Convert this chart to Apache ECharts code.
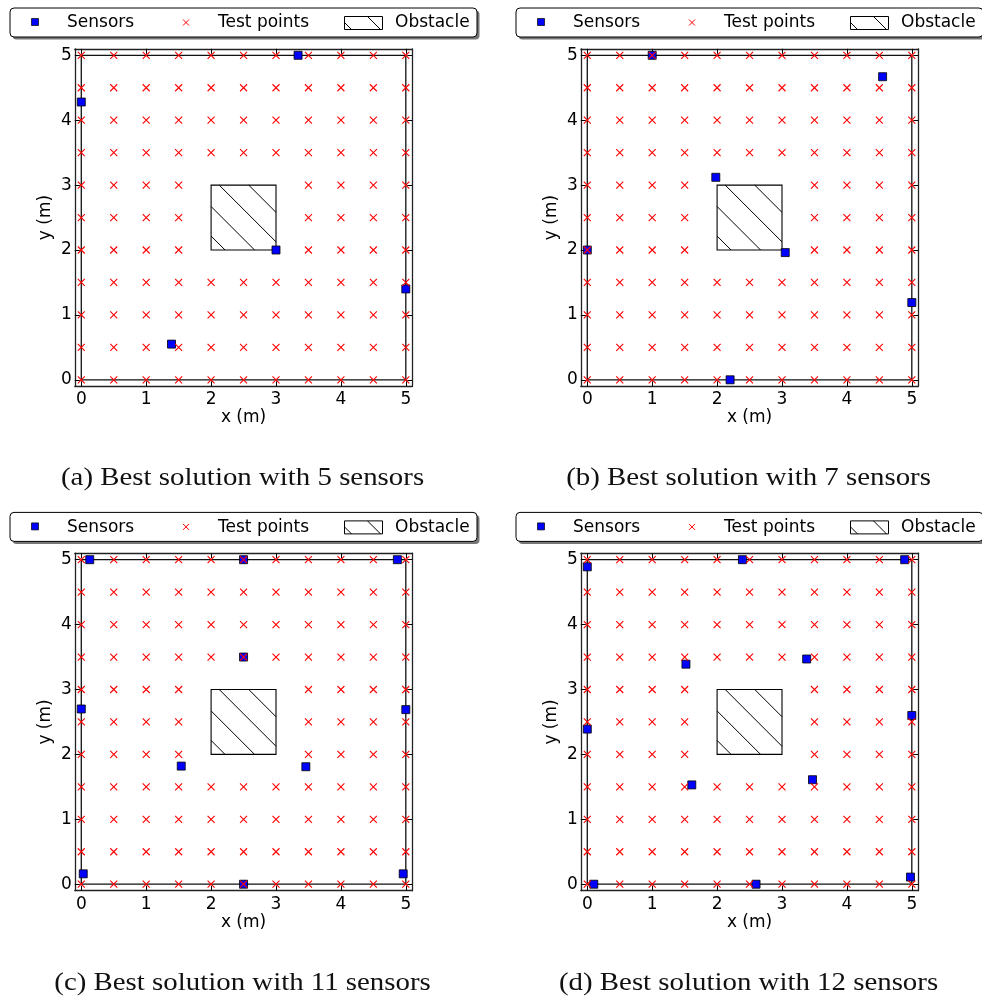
<!DOCTYPE html>
<html>
<head>
<meta charset="utf-8">
<script src="https://cdn.jsdelivr.net/npm/echarts@6/dist/echarts.min.js"></script>
<style>
  html, body { margin: 0; padding: 0; background: #fff; }
  #chart { width: 982px; height: 998px; }
</style>
</head>
<body>
<div id="chart"></div>
<script>
// Sensor placements (x, y in metres) for each optimisation run
const sensorsA = [[3.34, 5.0], [0.0, 4.28], [3.0, 2.0], [5.0, 1.4], [1.39, 0.55]];
const sensorsB = [[1.0, 5.0], [4.55, 4.67], [1.98, 3.12], [0.0, 2.0], [3.05, 1.96], [5.0, 1.19], [2.2, 0.0]];
const sensorsC = [[0.13, 5.0], [2.5, 5.0], [4.87, 5.0], [2.5, 3.5], [0.0, 2.7], [5.0, 2.69],
                  [1.54, 1.82], [3.46, 1.81], [0.03, 0.16], [4.96, 0.16], [2.5, 0.0]];
const sensorsD = [[0.0, 4.89], [2.39, 5.0], [4.89, 5.0], [1.52, 3.39], [3.38, 3.47], [0.0, 2.39],
                  [5.0, 2.6], [1.61, 1.53], [3.47, 1.61], [0.1, 0.0], [2.6, 0.0], [4.98, 0.11]];
const sensorSets = [sensorsA, sensorsB, sensorsC, sensorsD];

// Test point grid: one row of x positions per y level (the obstacle removes the middle)
const fullRow = [0, 0.5, 1, 1.5, 2, 2.5, 3, 3.5, 4, 4.5, 5];
const gapRow = [0, 0.5, 1, 1.5, 3.5, 4, 4.5, 5];
const testRowY = [0, 0.5, 1, 1.5, 2, 2.5, 3, 3.5, 4, 4.5, 5];
const testRowX = [fullRow, fullRow, fullRow, fullRow, gapRow, gapRow, gapRow, fullRow, fullRow, fullRow, fullRow];

// Room walls and obstacle (x0, y0, x1, y1)
const roomOutline = [[0, 0], [5, 0], [5, 5], [0, 5], [0, 0]];
const obstacle = [[2, 2, 3, 3]];

const tickValues = [0, 1, 2, 3, 4, 5];
const axisRange = [-0.1, 5.1];
const legendLabels = ['Sensors', 'Test points', 'Obstacle'];
const captions = [
  '(a) Best solution with 5 sensors',
  '(b) Best solution with 7 sensors',
  '(c) Best solution with 11 sensors',
  '(d) Best solution with 12 sensors'
];

const testPoints = [];
testRowY.forEach((y, i) => testRowX[i].forEach(x => testPoints.push([x, y])));

const FONT = 'DejaVu Sans';
const SIZE = 337.5;
const panels = [
  { left: 74.8, top: 48.8 },
  { left: 580.8, top: 48.8 },
  { left: 74.8, top: 553.2 },
  { left: 580.8, top: 553.2 }
];

const grids = [], xAxes = [], yAxes = [], series = [], graphics = [];

const CROSS = 'path://M0,0L10,10M10,0L0,10';

function axisBase(extra) {
  return Object.assign({
    type: 'value',
    min: axisRange[0],
    max: axisRange[1],
    splitLine: { show: false },
    axisLine: { show: true, onZero: false, lineStyle: { color: '#222', width: 1.3 } },
    axisTick: { show: true, inside: true, length: 5, customValues: tickValues, lineStyle: { color: '#000', width: 1 } },
    axisLabel: { show: false }
  }, extra);
}

panels.forEach((p, i) => {
  grids.push({ left: p.left, top: p.top, width: SIZE, height: SIZE, containLabel: false });
  const xi = xAxes.length, yi = yAxes.length;
  xAxes.push(axisBase({
    gridIndex: i, position: 'bottom',
    name: 'x (m)', nameLocation: 'middle', nameGap: 23,
    nameTextStyle: { fontFamily: FONT, fontSize: 17, color: '#000' },
    axisLabel: { show: true, customValues: tickValues, margin: 5, fontFamily: FONT, fontSize: 17, color: '#000' }
  }));
  xAxes.push(axisBase({ gridIndex: i, position: 'top' }));
  yAxes.push(axisBase({
    gridIndex: i, position: 'left',
    name: 'y (m)', nameLocation: 'middle', nameGap: 21, nameRotate: 90,
    nameTextStyle: { fontFamily: FONT, fontSize: 17, color: '#000' },
    axisLabel: { show: true, customValues: tickValues, margin: 3, fontFamily: FONT, fontSize: 17, color: '#000' }
  }));
  yAxes.push(axisBase({ gridIndex: i, position: 'right' }));

  series.push({
    type: 'line', xAxisIndex: xi, yAxisIndex: yi, data: roomOutline,
    showSymbol: false, symbol: 'none', silent: true, z: 1,
    lineStyle: { color: '#111', width: 1.3 }
  });
  series.push({
    type: 'custom', xAxisIndex: xi, yAxisIndex: yi, data: obstacle, z: 2, silent: true,
    renderItem: function (params, api) {
      const tl = api.coord([api.value(0), api.value(3)]);
      const br = api.coord([api.value(2), api.value(1)]);
      const w = br[0] - tl[0], h = br[1] - tl[1];
      const children = [{
        type: 'rect',
        shape: { x: tl[0], y: tl[1], width: w, height: h },
        style: { fill: 'none', stroke: '#000', lineWidth: 1.1 }
      }];
      const step = w * 0.455;
      for (let c = w * 0.33 - 2 * step; c < w; c += step) {
        if (c <= -w) continue;
        let x1, y1, x2, y2;
        if (c >= 0) { x1 = 0; y1 = c; x2 = w - c; y2 = h; }
        else { x1 = -c; y1 = 0; x2 = w; y2 = h + c; }
        children.push({
          type: 'line',
          shape: { x1: tl[0] + x1, y1: tl[1] + y1, x2: tl[0] + x2, y2: tl[1] + y2 },
          style: { stroke: '#000', lineWidth: 1 }
        });
      }
      return { type: 'group', children: children };
    }
  });
  series.push({
    type: 'scatter', xAxisIndex: xi, yAxisIndex: yi, data: sensorSets[i], z: 3,
    symbol: 'rect', symbolSize: 8,
    itemStyle: { color: '#0000ff', borderColor: '#000', borderWidth: 0.8, opacity: 1 }
  });
  series.push({
    type: 'scatter', xAxisIndex: xi, yAxisIndex: yi, data: testPoints, z: 4,
    symbol: CROSS, symbolSize: 7,
    itemStyle: { color: 'none', borderColor: '#ff0000', borderWidth: 1.1, opacity: 1 }
  });

  // legend box above each panel
  const lx = p.left - 64.8, ly = p.top - 40.8;
  graphics.push({
    type: 'group', x: lx, y: ly, silent: true,
    children: [
      { type: 'rect', shape: { x: 2.5, y: 2.5, width: 467, height: 29, r: 4 }, style: { fill: '#777' } },
      { type: 'rect', shape: { x: 0, y: 0, width: 467, height: 29, r: 4 }, style: { fill: '#fff', stroke: '#000', lineWidth: 1 } },
      { type: 'rect', shape: { x: 21.5, y: 10.5, width: 7, height: 7 }, style: { fill: '#0000ff', stroke: '#000', lineWidth: 0.7 } },
      { type: 'text', x: 57, y: 15, style: { text: legendLabels[0], font: '17px "DejaVu Sans"', fill: '#000', verticalAlign: 'middle' } },
      { type: 'line', shape: { x1: 173, y1: 11.5, x2: 179, y2: 17.5 }, style: { stroke: '#ff0000', lineWidth: 1 } },
      { type: 'line', shape: { x1: 179, y1: 11.5, x2: 173, y2: 17.5 }, style: { stroke: '#ff0000', lineWidth: 1 } },
      { type: 'text', x: 208, y: 15, style: { text: legendLabels[1], font: '17px "DejaVu Sans"', fill: '#000', verticalAlign: 'middle' } },
      { type: 'rect', shape: { x: 334.5, y: 8.5, width: 38, height: 13 }, style: { fill: 'none', stroke: '#000', lineWidth: 1 } },
      { type: 'line', shape: { x1: 334.5, y1: 14.5, x2: 341.5, y2: 21.5 }, style: { stroke: '#000', lineWidth: 1 } },
      { type: 'line', shape: { x1: 357.5, y1: 8.5, x2: 370.5, y2: 21.5 }, style: { stroke: '#000', lineWidth: 1 } },
      { type: 'text', x: 385, y: 15, style: { text: legendLabels[2], font: '17px "DejaVu Sans"', fill: '#000', verticalAlign: 'middle' } }
    ]
  });

  // sub-figure caption, widened to a book-face proportion
  graphics.push({
    type: 'text', x: p.left + SIZE / 2 - 1, y: p.top + SIZE + 92, scaleX: 1.11, silent: true,
    style: { text: captions[i], font: '26px "Liberation Serif"', fill: '#111', align: 'center', verticalAlign: 'middle' }
  });
});

const chart = echarts.init(document.getElementById('chart'), null, { renderer: 'canvas' });
chart.setOption({
  animation: false,
  backgroundColor: '#fff',
  grid: grids,
  xAxis: xAxes,
  yAxis: yAxes,
  series: series,
  graphic: graphics
});
</script>
</body>
</html>
